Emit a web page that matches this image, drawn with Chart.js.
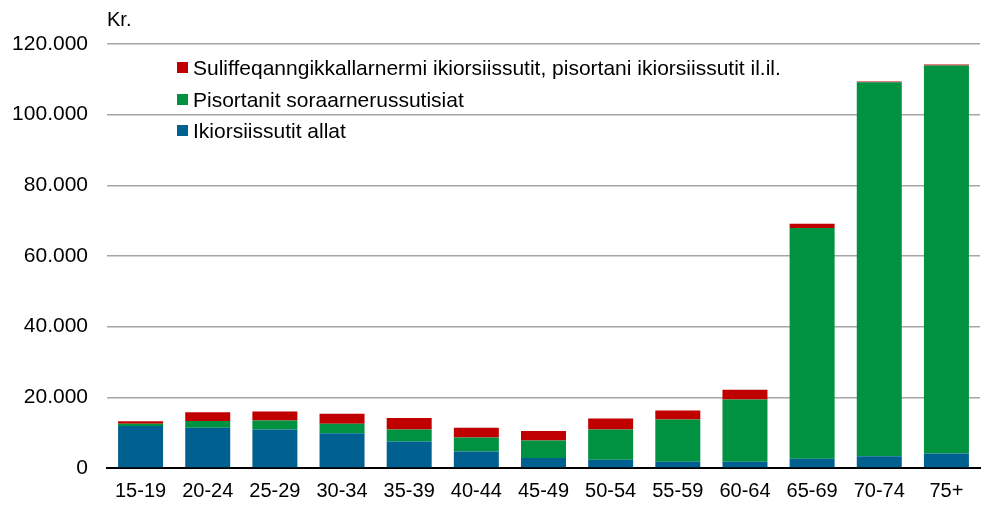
<!DOCTYPE html>
<html>
<head>
<meta charset="utf-8">
<script src="https://cdn.jsdelivr.net/npm/chart.js@4.4.0/dist/chart.umd.min.js"></script>
<style>
html,body{margin:0;padding:0;background:#fff;}
#wrap{width:986px;height:505px;position:relative;}
</style>
</head>
<body>
<div id="wrap"><canvas id="c" width="986" height="505"></canvas></div>
<script>
const categories = ['15-19','20-24','25-29','30-34','35-39','40-44','45-49','50-54','55-59','60-64','65-69','70-74','75+'];
const ikiorsiissututAllat = [11900, 11400, 10900, 9800, 7500, 4650, 2850, 2300, 1800, 1800, 2600, 3300, 4100];
const pisortanitSoraarnerussutisiat = [600, 1900, 2550, 2750, 3400, 3950, 4900, 8600, 11900, 17600, 65300, 105900, 109800];
const suliffeqanngikkallarnermi = [700, 2450, 2550, 2800, 3250, 2800, 2700, 3100, 2600, 2750, 1250, 200, 300];
const seriesLabels = ['Ikiorsiissutit allat', 'Pisortanit soraarnerussutisiat', 'Suliffeqanngikkallarnermi ikiorsiissutit, pisortani ikiorsiissutit il.il.'];
const yTicks = [0, 20000, 40000, 60000, 80000, 100000, 120000];
const unitLabel = 'Kr.';

const FONT = '"Liberation Sans", Arial, sans-serif';
const colors = ['#00608F', '#009141', '#C00000'];

const legendPlugin = {
  id: 'customLegend',
  afterDraw(chart) {
    const ctx = chart.ctx;
    ctx.save();
    ctx.font = '20px ' + FONT;
    ctx.fillStyle = '#000';
    ctx.textBaseline = 'middle';
    ctx.textAlign = 'left';
    ctx.fillText(unitLabel, chart.chartArea.left, 20);
    ctx.font = '21px ' + FONT;
    const rows = [[2, 68], [1, 100], [0, 131]];
    rows.forEach(([i, y]) => {
      ctx.fillStyle = colors[i];
      ctx.fillRect(177, y - 6, 11, 11);
      ctx.fillStyle = '#000';
      ctx.fillText(chart.data.datasets[i].label, 193, y + 1);
    });
    ctx.restore();
  }
};

new Chart(document.getElementById('c'), {
  type: 'bar',
  data: {
    labels: categories,
    datasets: [
      { label: seriesLabels[0], data: ikiorsiissututAllat, backgroundColor: colors[0] },
      { label: seriesLabels[1], data: pisortanitSoraarnerussutisiat, backgroundColor: colors[1] },
      { label: seriesLabels[2], data: suliffeqanngikkallarnermi, backgroundColor: colors[2] }
    ]
  },
  options: {
    responsive: false,
    animation: false,
    devicePixelRatio: 1,
    layout: { padding: { top: 44, right: 6, bottom: 0, left: 0 } },
    datasets: { bar: { categoryPercentage: 1, barPercentage: 0.67, borderWidth: 0 } },
    plugins: { legend: { display: false }, tooltip: { enabled: false } },
    scales: {
      x: {
        stacked: true,
        grid: { display: false, drawTicks: false },
        border: { display: true, color: '#000', width: 2 },
        ticks: { color: '#000', font: { family: FONT, size: 20 }, padding: 11, maxRotation: 0 },
        afterFit(scale) { scale.height = 37; }
      },
      y: {
        stacked: true,
        min: 0, max: 120000,
        afterBuildTicks(scale) { scale.ticks = yTicks.map(v => ({ value: v })); },
        grid: { color: '#A6A6A6', lineWidth: 1.5, drawTicks: false },
        border: { display: false },
        ticks: {
          color: '#000', font: { family: FONT, size: 21 }, padding: 19,
          callback: v => v.toLocaleString('de-DE')
        },
        afterFit(scale) { scale.width = 107; }
      }
    }
  },
  plugins: [legendPlugin]
});
</script>
</body>
</html>
